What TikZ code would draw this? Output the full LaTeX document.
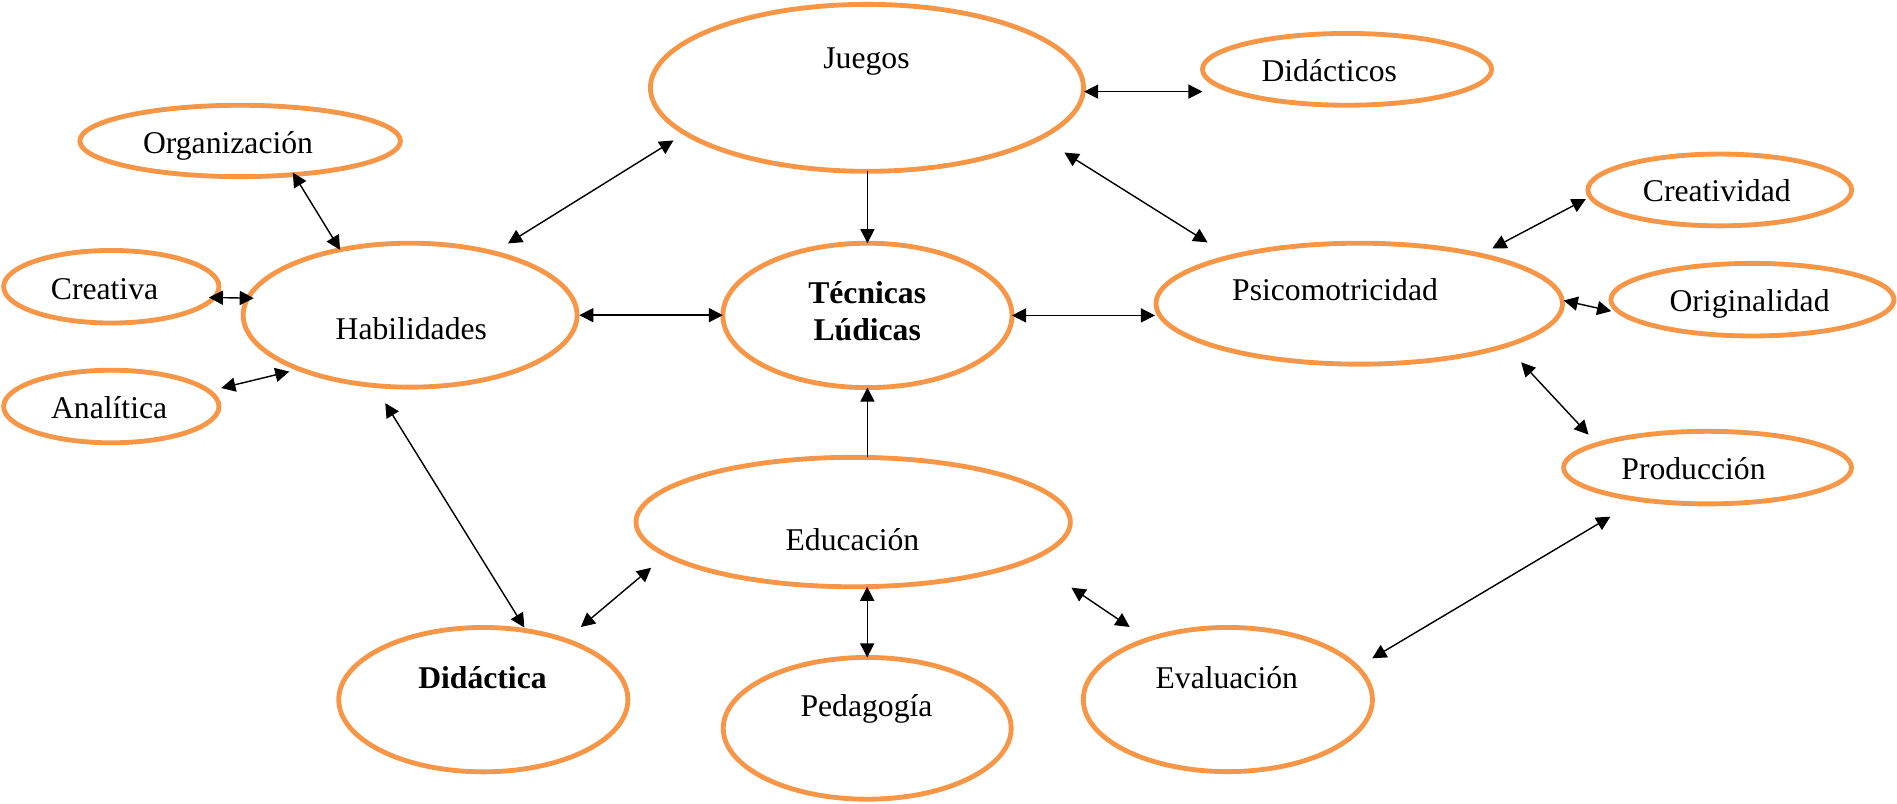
\documentclass[tikz,border=0pt]{standalone}
\usepackage{fontspec}
\setmainfont{Liberation Serif}
\usetikzlibrary{arrows.meta,shapes.geometric}
\definecolor{bubble}{HTML}{F79646}
\begin{document}
\begin{tikzpicture}[x=0.6pt,y=-0.6pt,
  bub/.style={ellipse, draw=bubble, line width=2.4pt, inner sep=0pt, outer sep=0pt},
  lbl/.style={anchor=base, inner sep=0pt, font=\fontsize{15.7}{18.5}\selectfont},
  tip/.style={Triangle[length=7pt,width=7pt]},
  link/.style={line width=0.7pt, {Triangle[length=7pt,width=7pt]}-{Triangle[length=7pt,width=7pt]}},
  oneway/.style={line width=0.7pt, -{Triangle[length=7pt,width=7pt]}}]
\useasboundingbox (0,0) rectangle (1568,664);

% bubbles
\node[bub, minimum width=214.8pt, minimum height=82.8pt] (jue) at (716.6,72.6) {};
\node[bub, minimum width=143.4pt, minimum height=35.6pt] (did) at (1113.4,57.3) {};
\node[bub, minimum width=159pt,   minimum height=35.4pt] (org) at (198.5,116.5) {};
\node[bub, minimum width=106.8pt, minimum height=36pt]   (cre) at (92,237) {};
\node[bub, minimum width=106.8pt, minimum height=36pt]   (ana) at (92,336) {};
\node[bub, minimum width=165.6pt, minimum height=71.4pt] (hab) at (339,260.5) {};
\node[bub, minimum width=143.4pt, minimum height=71.6pt] (tec) at (717,260.7) {};
\node[bub, minimum width=201.6pt, minimum height=60pt]   (psi) at (1123.5,251) {};
\node[bub, minimum width=130.8pt, minimum height=35.6pt] (crd) at (1421.5,157) {};
\node[bub, minimum width=140.4pt, minimum height=36pt]   (ori) at (1448.5,247.7) {};
\node[bub, minimum width=142.8pt, minimum height=36pt]   (pro) at (1411.4,386.5) {};
\node[bub, minimum width=215.4pt, minimum height=64.2pt] (edu) at (705.2,431.5) {};
\node[bub, minimum width=143.4pt, minimum height=71.6pt] (dda) at (399.5,578.3) {};
\node[bub, minimum width=142.8pt, minimum height=70.3pt] (ped) at (716.8,602) {};
\node[bub, minimum width=143.4pt, minimum height=71.5pt] (eva) at (1014.9,578.2) {};

% labels
\node[lbl] (t-jue) at (716.2,56.3) {Juegos};
\node[lbl] (t-did) at (1098.7,67.5) {Didácticos};
\node[lbl] (t-org) at (188.5,126.7) {Organización};
\node[lbl] (t-cre) at (86.4,247.2) {Creativa};
\node[lbl] (t-ana) at (90.2,345.8) {Analítica};
\node[lbl] (t-hab) at (340,281) {Habilidades};
\node[lbl, font=\fontsize{15.7}{18.5}\selectfont\bfseries] (t-tec1) at (716.8,250.7) {Técnicas};
\node[lbl, font=\fontsize{15.7}{18.5}\selectfont\bfseries] (t-tec2) at (716.8,281.6) {Lúdicas};
\node[lbl] (t-psi) at (1103.5,248) {Psicomotricidad};
\node[lbl] (t-crd) at (1419,166.7) {Creatividad};
\node[lbl] (t-ori) at (1446.1,257.6) {Originalidad};
\node[lbl] (t-pro) at (1399.8,396.2) {Producción};
\node[lbl] (t-edu) at (704.6,454.6) {Educación};
\node[lbl, font=\fontsize{15.7}{18.5}\selectfont\bfseries] (t-dda) at (398.8,568.7) {Didáctica};
\node[lbl] (t-ped) at (716.2,592.4) {Pedagogía};
\node[lbl] (t-eva) at (1014,568.7) {Evaluación};

% connectors
\draw[oneway] (tec.north |- jue.south) -- (tec.north);
\draw[oneway] (tec.south |- edu.north) -- (tec.south);
\draw[link] (ped.north |- edu.south) -- (ped.north);
\draw[link, shorten <=0.4pt] (jue.359) -- (jue.359 -| did.west);
\draw[link, shorten <=1.1pt] (hab.east) -- (hab.east -| tec.west);
\draw[link, shorten >=0.5pt] (tec.east) -- (tec.east -| psi.west);
\draw[link, shorten <=8.7pt, shorten >=6.8pt] (hab.37.3) -- (jue.194.2);
\draw[link, shorten <=13.9pt, shorten >=13.5pt] (jue.-16.7) -- (psi.160.8);
\draw[link, shorten <=-1.1pt] (org.-32.3) -- (hab.137.8);
\draw[link, shorten <=-2.6pt, shorten >=-2.9pt] (cre.-6.95) -- (hab.174.35);
\draw[link, shorten <=6.4pt, shorten >=5.2pt] (ana.9.6) -- (hab.206.3);
\draw[link, shorten <=10.3pt, shorten >=1.9pt] (hab.243.9) -- (dda.58.2);
\draw[link, shorten <=10.1pt, shorten >=9.8pt] (dda.36.5) -- (edu.190.9);
\draw[link, shorten <=24.8pt, shorten >=11pt] (edu.-12.3) -- (eva.143.3);
\draw[link, shorten <=8.7pt, shorten >=16.6pt] (eva.14.4) -- (pro.205.6);
\draw[link, shorten <=7pt, shorten >=2.5pt] (psi.22.3) -- (crd.183.8);
\draw[link, shorten <=0.8pt, shorten >=5.2pt] (psi.1.16) -- (ori.186);
\draw[link, shorten <=11.3pt, shorten >=6.5pt] (psi.-16.97) -- (pro.168.3);
\end{tikzpicture}
\end{document}
